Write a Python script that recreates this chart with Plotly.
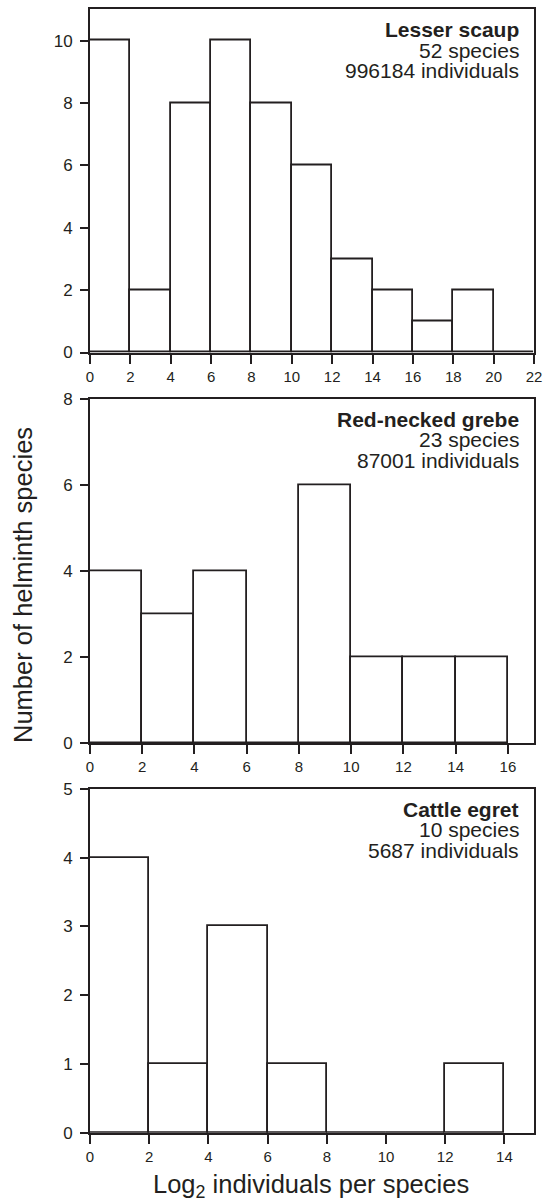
import plotly.graph_objects as go

# ---- data ----
bin_edges_scaup = [0, 2, 4, 6, 8, 10, 12, 14, 16, 18, 20]
counts_scaup = [10, 2, 8, 10, 8, 6, 3, 2, 1, 2, 0]

bin_edges_grebe = [0, 2, 4, 6, 8, 10, 12, 14]
counts_grebe = [4, 3, 4, 0, 6, 2, 2, 2]

bin_edges_egret = [0, 2, 4, 6, 8, 10, 12]
counts_egret = [4, 1, 3, 1, 0, 0, 1]

panel_titles = ["Lesser scaup", "Red-necked grebe", "Cattle egret"]
panel_species = ["52 species", "23 species", "10 species"]
panel_individuals = ["996184 individuals", "87001 individuals", "5687 individuals"]

x_ranges = [[0, 22], [0, 17], [0, 15]]
y_ranges = [[0, 11], [0, 8], [0, 5]]
y_dticks = [2, 2, 1]

W, H = 550, 1204
INK = "#231f20"
FONT = "Liberation Sans, Arial, Helvetica, sans-serif"

def px(x):
    return x / W

def py(y):
    return 1 - y / H

# panel pixel geometry (top, bottom)
panels_px = [(9.4, 352.5), (399.3, 743.3), (789.0, 1132.7)]
x_left, x_right = 90, 534

fig = go.Figure()

data = [(bin_edges_scaup, counts_scaup), (bin_edges_grebe, counts_grebe), (bin_edges_egret, counts_egret)]
for i, (edges, counts) in enumerate(data):
    n = "" if i == 0 else str(i + 1)
    centers = [e + 1 for e in edges]
    fig.add_trace(go.Bar(
        x=centers, y=counts, width=[2] * len(centers),
        marker=dict(color="white", line=dict(color=INK, width=1.8)),
        xaxis="x" + n, yaxis="y" + n, showlegend=False, hoverinfo="x+y",
    ))

layout = dict(
    width=W, height=H,
    margin=dict(l=0, r=0, t=0, b=0, autoexpand=False),
    paper_bgcolor="white", plot_bgcolor="white",
    font=dict(family=FONT, color=INK),
    bargap=0,
    annotations=[],
)

for i in range(3):
    n = "" if i == 0 else str(i + 1)
    top, bot = panels_px[i]
    layout["xaxis" + n] = dict(
        domain=[px(x_left), px(x_right)], anchor="y" + n,
        range=x_ranges[i], dtick=2, tick0=0,
        showline=True, linewidth=2, linecolor=INK, mirror=True,
        ticks="outside", ticklen=9, tickwidth=1.8, tickcolor=INK,
        tickfont=dict(size=15, color=INK), ticklabelstandoff=0,
        showgrid=False, zeroline=False, fixedrange=True, automargin=False,
    )
    layout["yaxis" + n] = dict(
        domain=[py(bot), py(top)], anchor="x" + n,
        range=y_ranges[i], dtick=y_dticks[i], tick0=0,
        showline=True, linewidth=2, linecolor=INK, mirror=True,
        ticks="outside", ticklen=8, tickwidth=1.8, tickcolor=INK,
        tickfont=dict(size=17, color=INK), ticklabelstandoff=4,
        showgrid=False, zeroline=False, fixedrange=True, automargin=False,
    )
    base = top + 27.4
    fs = 21
    lines = [(panel_titles[i], True), (panel_species[i], False), (panel_individuals[i], False)]
    for k, (txt, bold) in enumerate(lines):
        baseline = base + 20.5 * k
        layout["annotations"].append(dict(
            x=px(521), y=py(baseline - 0.347 * fs), xref="paper", yref="paper",
            xanchor="right", yanchor="middle", showarrow=False,
            text=f"<b>{txt}</b>" if bold else txt,
            font=dict(size=fs, color=INK, family=FONT),
        ))

layout["annotations"].append(dict(
    x=px(23), y=py(585), xref="paper", yref="paper",
    xanchor="center", yanchor="middle", showarrow=False, textangle=-90,
    text="Number of helminth species", font=dict(size=25.5, color=INK, family=FONT),
))
layout["annotations"].append(dict(
    x=px(310.5), y=py(1186), xref="paper", yref="paper",
    xanchor="center", yanchor="middle", showarrow=False,
    text="Log<sub>2</sub> individuals per species", font=dict(size=25.5, color=INK, family=FONT),
))

fig.update_layout(**layout)
fig.write_html(
    "out.html",
    config={"displayModeBar": False},
    post_script="document.body.style.margin='0px';document.body.style.overflow='hidden';",
)
